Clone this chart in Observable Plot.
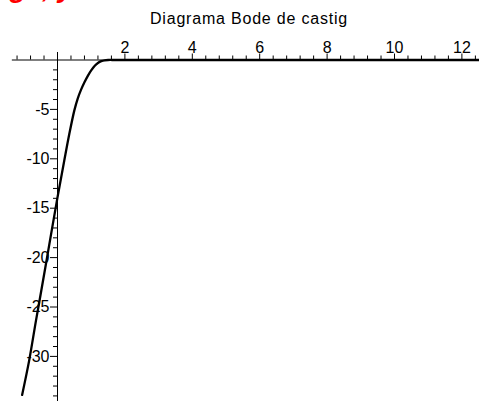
<!DOCTYPE html>
<html><head><meta charset="utf-8">
<script src="https://cdn.jsdelivr.net/npm/d3@7"></script>
<script src="https://cdn.jsdelivr.net/npm/@observablehq/plot@0.6"></script>
<style>body{margin:0;background:#fff} svg{display:block} .ttl text{letter-spacing:0.8px}</style>
</head><body><div id="chart"></div>
<script>
const title = "Diagrama Bode de castig";
const fragment = "g\u00a0\u00a0,\u00a0y";
const freq = [-1.05, -0.84, -0.64, -0.54, -0.29, 0, 0.2, 0.35, 0.5, 0.6, 0.7, 0.8, 0.9, 1.0, 1.1, 1.2, 1.3, 1.4, 1.5, 1.7, 2, 12.6];
const gain = [-33.9, -30.4, -26.4, -24.5, -19.6, -13.9, -10.2, -7.5, -5.1, -3.9, -3.0, -2.25, -1.6, -1.05, -0.6, -0.3, -0.12, -0.03, 0, 0, 0, 0];
const xMajor = [2, 4, 6, 8, 10, 12];
const xMinor = [-1.2, -0.8, -0.4, 0.4, 0.8, 1.2, 1.6, 2.4, 2.8, 3.2, 3.6, 4.4, 4.8, 5.2, 5.6, 6.4, 6.8, 7.2, 7.6, 8.4, 8.8, 9.2, 9.6, 10.4, 10.8, 11.2, 11.6, 12.4];
const yMajor = [-5, -10, -15, -20, -25, -30];
const yMinor = [-1,-2,-3,-4,-6,-7,-8,-9,-11,-12,-13,-14,-16,-17,-18,-19,-21,-22,-23,-24,-26,-27,-28,-29,-31,-32,-33,-34];

const W = 479, H = 401, x0 = 57, y0 = 59.5, sx = 33.7, sy = 9.88;
const font = "Liberation Sans, Arial, sans-serif";
const curveData = freq.map((f, i) => ({f, g: gain[i]}));

const chart = Plot.plot({
  width: W, height: H, margin: 0,
  style: {fontFamily: font, background: "#fff"},
  x: {domain: [-x0 / sx, (W - x0) / sx], axis: null},
  y: {domain: [-(H - y0) / sy, y0 / sy], axis: null},
  marks: [
    Plot.text([fragment], {frameAnchor: "top-left", dx: 9, dy: -3.5, text: d => d, lineAnchor: "bottom", textAnchor: "start",
      fill: "#ff0000", fontSize: 28, fontWeight: "bold", fontStyle: "italic"}),
    Plot.text([title], {frameAnchor: "top", dx: 9, dy: 23, text: d => d, lineAnchor: "bottom",
      fontSize: 16, fill: "#000", className: "ttl"}),
    Plot.ruleY([0], {x1: -1.34, x2: 12.6, stroke: "#000", strokeWidth: 1}),
    Plot.ruleX([0], {y1: 0.76, y2: -36, stroke: "#000", strokeWidth: 1}),
    Plot.ruleX(xMinor, {x: d => d, y1: 0, y2: 0, insetTop: -4, stroke: "#000"}),
    Plot.ruleX(xMajor, {x: d => d, y1: 0, y2: 0, insetTop: -6, stroke: "#000"}),
    Plot.ruleY(yMinor, {y: d => d, x1: 0, x2: 0, insetLeft: -4, stroke: "#000"}),
    Plot.ruleY(yMajor, {y: d => d, x1: 0, x2: 0, insetLeft: -7, stroke: "#000"}),
    Plot.text(xMajor, {x: d => d, y: 0, text: d => String(d), dy: -7, lineAnchor: "bottom", fontSize: 16, fill: "#000"}),
    Plot.text(yMajor, {x: 0, y: d => d, text: d => String(d), dx: -8, textAnchor: "end", lineAnchor: "middle", fontSize: 16, fill: "#000"}),
    Plot.line(curveData, {x: "f", y: "g", curve: "catmull-rom", stroke: "#000", strokeWidth: 2.3})
  ]
});
document.getElementById("chart").append(chart);
</script>
</body></html>
